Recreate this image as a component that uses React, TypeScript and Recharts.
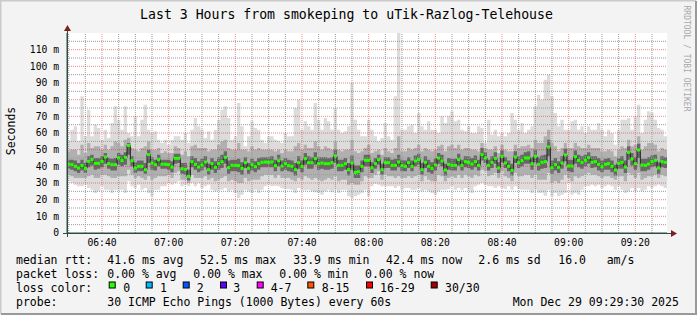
import React from 'react';
import { ComposedChart, Area, Line, Scatter, XAxis, YAxis, ReferenceLine, CartesianGrid } from 'recharts';

// one value per minute, 06:29:30 .. 09:29:30, in ms
const MEDIAN = [
  41.2, 41, 40, 39, 40.5, 38.8, 43, 44, 41.8, 41.8, 43, 45.6, 41.6, 41, 41, 45, 43.5, 45.4, 52.5, 43.4, 39, 40, 40, 38, 47, 42, 41, 44, 41.3, 41.2,
  41, 39.6, 44.8, 44.8, 38.6, 38.2, 33.9, 42.8, 41.2, 39.6, 40.8, 42.6, 38, 41.6, 39.4, 41.6, 42.8, 45.4, 39.2, 40.6, 40.6, 40.4, 38.8, 42.2, 38.8, 41, 39.8, 41.6, 42.4, 42.6,
  42.4, 42.6, 40.4, 43.4, 40.2, 41.6, 40.4, 40, 38, 42.2, 40, 44.6, 42.2, 42.2, 44.6, 41.6, 42, 41.6, 41.6, 42.2, 46.2, 40.6, 40.6, 41.6, 38, 42, 36.4, 36.8, 40, 43.6,
  43.6, 39.2, 41.6, 44, 38, 42.2, 42.2, 40.6, 40.6, 42.6, 40.4, 40, 42.2, 40, 43.2, 44, 38, 42.4, 40, 38.8, 40.8, 45, 43.2, 37.8, 41.2, 40.6, 40.6, 44, 40.6, 42.8,
  42.4, 41.4, 42.8, 40.6, 47, 45, 40.6, 42.4, 44.8, 39, 46, 42, 40, 37.6, 45.6, 42.2, 43.4, 45, 45, 41.6, 46, 41.2, 42.4, 42.8, 51.6, 39.2, 41, 39.4, 42, 46.8,
  40.2, 40.2, 45.8, 43.6, 42.4, 43.6, 45.2, 42.4, 42.8, 41.2, 39.8, 41.2, 41.6, 40, 37.8, 41.8, 42.4, 39.6, 48.4, 44.4, 41.6, 49.8, 40.8, 40.6, 41.4, 42.8, 43.6, 39, 42.8, 42.4,
];

const PING_MAX = [
  55, 62, 64, 55, 82, 58, 74, 58, 65, 63, 56, 62, 57, 66, 76, 68, 62, 76, 60, 58, 70, 58, 68, 77, 62, 60, 61, 56, 54, 56,
  53, 56, 58, 58, 56, 60, 54, 62, 69, 64, 62, 57, 61, 56, 62, 68, 74, 76, 69, 56, 58, 78, 64, 52, 58, 67, 63, 62, 56, 54,
  58, 58, 56, 55, 54, 60, 58, 58, 75, 80, 62, 67, 64, 62, 78, 68, 62, 69, 67, 62, 75, 62, 60, 61, 64, 90, 68, 62, 58, 58,
  68, 62, 58, 55, 57, 66, 58, 56, 82, 120, 62, 62, 64, 65, 60, 72, 64, 62, 67, 62, 62, 60, 70, 66, 70, 73, 67, 68, 62, 61,
  64, 60, 60, 64, 63, 54, 68, 59, 62, 58, 60, 58, 60, 72, 68, 62, 66, 60, 62, 64, 76, 83, 80, 92, 95, 82, 72, 64, 68, 62,
  62, 67, 68, 62, 64, 60, 64, 62, 62, 66, 62, 58, 62, 60, 53, 62, 68, 68, 69, 62, 70, 77, 60, 68, 73, 72, 68, 63, 62, 58,
];

const PING_MIN = [
  31, 30, 29, 28, 28, 29, 27, 26, 24, 25, 28, 26, 26, 24, 26, 26, 26, 24, 31, 28, 27, 29, 26, 27, 24, 22, 26, 26, 28, 28,
  30, 29, 30, 31, 28, 29, 28, 30, 28, 30, 27, 28, 29, 26, 25, 26, 26, 27, 25, 26, 24, 21, 23, 26, 25, 24, 26, 24, 26, 28,
  29, 28, 28.4, 28, 27, 26.4, 26.4, 26, 24, 27, 26, 25.6, 26, 25, 24.4, 24, 23, 25, 26, 24.4, 26, 24, 26, 26, 22, 21, 22, 23, 24, 26,
  22, 28, 29.6, 29, 28, 28, 28, 28, 27, 28, 26, 27, 27, 26, 26, 27, 25, 26, 25, 24, 23, 25, 26, 26, 26.4, 28, 26, 27, 26, 27,
  26, 24, 28, 29, 30, 29, 28, 28, 27, 28, 27, 26.4, 28, 26, 28, 26.4, 26, 26, 26, 24, 26, 24, 24, 22.4, 26, 22, 24, 22, 23, 24,
  30, 23, 24, 23, 26, 28, 28, 29, 28, 29, 27, 28, 29, 28, 26, 28, 26, 24, 25, 27, 25, 27, 25, 26, 28, 27, 28, 29, 28, 27,
];

const PING_P85 = [
  49, 50, 50, 47, 53, 48, 54, 51, 52, 52, 50, 53, 50, 52, 55, 54, 52, 56, 57, 51, 50, 49, 51, 52, 55, 50, 50, 51, 48, 49,
  48, 48, 52, 51, 47, 49, 46, 52, 53, 51, 51, 51, 49, 50, 50, 53, 55, 56, 51, 50, 50, 54, 50, 50, 49, 52, 50, 51, 50, 50,
  50, 50, 49, 50, 48, 50, 49, 49, 52, 54, 50, 53, 51, 51, 55, 52, 50, 52, 51, 50, 55, 50, 49, 50, 50, 56, 49, 48, 49, 51,
  53, 48, 49, 50, 47, 51, 49, 48, 51, 58, 49, 49, 51, 50, 51, 53, 49, 51, 50, 49, 50, 52, 53, 49, 52, 53, 51, 53, 50, 51,
  51, 50, 50, 49, 54, 51, 50, 50, 52, 48, 53, 50, 49, 49, 53, 51, 52, 52, 53, 51, 56, 54, 54, 58, 62, 54, 52, 49, 51, 54,
  51, 51, 54, 52, 51, 51, 53, 51, 51, 51, 49, 49, 50, 49, 46, 50, 52, 51, 56, 52, 53, 58, 50, 52, 54, 54, 53, 49, 51, 50,
];

const PING_P15 = [
  35, 34, 33, 33, 33, 33, 34, 35, 33, 33, 35, 35, 34, 33, 33, 34, 34, 34, 38, 35, 33, 34, 33, 32, 34, 32, 33, 34, 34, 34,
  35, 33, 36, 37, 32, 32, 30, 35, 33, 33, 33, 34, 32, 33, 31, 32, 33, 34, 31, 32, 31, 30, 30, 33, 31, 32, 32, 32, 34, 35,
  35, 35, 33, 35, 33, 33, 33, 32, 31, 33, 32, 34, 33, 32, 33, 32, 31, 32, 33, 32, 34, 31, 32, 32, 29, 30, 29, 29, 31, 34,
  33, 33, 35, 37, 32, 35, 34, 34, 33, 34, 33, 33, 34, 33, 34, 35, 31, 34, 32, 31, 31, 35, 34, 31, 33, 34, 33, 35, 33, 35,
  34, 33, 35, 34, 38, 37, 34, 35, 36, 33, 37, 34, 33, 31, 36, 34, 34, 35, 35, 33, 35, 32, 32, 32, 36, 30, 31, 30, 32, 35,
  33, 31, 34, 33, 34, 35, 36, 35, 35, 34, 33, 34, 34, 33, 32, 34, 34, 31, 36, 35, 33, 36, 32, 33, 34, 34, 35, 33, 35, 34,
];

const PING_P65 = [
  44, 44, 43.5, 42, 44, 42, 46, 47, 45, 45, 46, 48, 45, 44.5, 45, 48, 47, 48.5, 54, 46, 42.5, 43.5, 43.5, 42, 50, 45.5, 44, 47, 44, 44,
  44, 43, 47.5, 47.5, 42, 42, 38, 46, 45, 43, 44.5, 46, 41.5, 45, 43, 45.5, 47, 49, 43.5, 44, 44, 44.5, 42.5, 45.5, 42, 44.5, 43, 45, 45.5, 45.5,
  45.5, 46, 44, 47, 43.5, 45, 44, 43.5, 42, 46, 43.5, 48, 46, 45.5, 48.5, 45.5, 45.5, 45.5, 45, 45.5, 50, 44, 44, 45, 42, 46.5, 40.5, 40.5, 43.5, 47,
  47, 42.5, 45, 47, 41.5, 45.5, 45.5, 44, 44.5, 47, 44, 43.5, 45.5, 43.5, 46.5, 47.5, 42, 46, 44, 42.5, 44.5, 48, 47, 41.5, 45, 44.5, 44.5, 47.5, 44, 46,
  46, 45, 46.5, 44, 51, 48.5, 44, 46, 48.5, 42.5, 49.5, 45.5, 43.5, 41.5, 49, 46, 47, 48.5, 49, 45.5, 50, 45.5, 46.5, 47, 56, 43.5, 45, 43, 46, 50.5,
  44, 44, 49.5, 47, 46, 47, 48.5, 46, 46, 45, 43.5, 44.5, 45, 43.5, 41, 45, 46, 43.5, 52, 48, 45.5, 53.5, 44.5, 44.5, 45.5, 46.5, 47, 42.5, 46, 45.5,
];

const PING_P35 = [
  38.5, 38, 37, 36, 37.5, 36, 39.5, 40.5, 38, 38.5, 39.5, 41.5, 38.5, 37.5, 37.5, 41, 40, 41, 47, 40, 36, 37, 37, 35.5, 42, 38, 37.5, 40, 38.5, 38.5,
  38, 36.5, 41.5, 42, 35.5, 35, 31.5, 39.5, 38, 36.5, 37.5, 39.5, 35, 38, 36, 38, 39, 41.5, 35.5, 37, 37, 36.5, 35, 39, 35.5, 37.5, 36.5, 38, 39.5, 39.5,
  39.5, 39.5, 37, 40, 37, 38, 37, 36.5, 34.5, 38.5, 36.5, 41, 38.5, 38.5, 41, 38, 38.5, 38, 38, 38.5, 42, 37, 37, 38, 34.5, 38, 33, 33, 36.5, 40,
  40, 36, 38.5, 41, 35, 39, 39, 37.5, 37.5, 39.5, 37, 37, 39, 37, 40, 41, 35, 39, 36.5, 35.5, 37.5, 41.5, 40, 34.5, 38, 37.5, 37.5, 40.5, 37.5, 39.5,
  39, 38, 39.5, 37.5, 43.5, 42, 37.5, 39, 41.5, 36, 42.5, 39, 37, 34.5, 42, 39, 40, 41.5, 41.5, 38, 42.5, 37.5, 38.5, 39, 46, 35.5, 37.5, 36, 38.5, 43,
  37, 36.5, 41.5, 39.5, 38.5, 40, 41.5, 39, 39.5, 37.5, 36.5, 38, 38, 36.5, 34.5, 38.5, 38.5, 36, 44, 40.5, 38, 45, 37, 37, 38, 39.5, 40, 35.5, 39.5, 39,
];

// minutes after 06:29:30
const TIME_TICKS = [10.5, 30.5, 50.5, 70.5, 90.5, 110.5, 130.5, 150.5, 170.5];
const TIME_LABELS = ['06:40', '07:00', '07:20', '07:40', '08:00', '08:20', '08:40', '09:00', '09:20'];
const RTT_TICKS = [0, 10, 20, 30, 40, 50, 60, 70, 80, 90, 100, 110];
const RTT_LABELS = ['0', '10 m', '20 m', '30 m', '40 m', '50 m', '60 m', '70 m', '80 m', '90 m', '100 m', '110 m'];

const MINOR_X = Array.from({ length: 36 }, (_, k) => 0.5 + 5 * k).filter((v) => !TIME_TICKS.includes(v));
const MINOR_Y = Array.from({ length: 12 }, (_, k) => 5 + 10 * k);

const LOSS_LABELS = ['0', '1', '2', '3', '4-7', '8-15', '16-29', '30/30'];
const LOSS_COLORS = ['#26ff00', '#00b8ff', '#0059ff', '#5e00ff', '#ff00ff', '#ff5500', '#ff0000', '#a10000'];

const STAT_ROWS = [
  ['median rtt:', '41.6 ms avg', '52.5 ms max', '33.9 ms min', '42.4 ms now', '2.6 ms sd', '16.0', 'am/s'],
  ['packet loss:', '0.00 % avg', '0.00 % max', '0.00 % min', '0.00 % now'],
  ['probe:', '30 ICMP Echo Pings (1000 Bytes) every 60s', 'Mon Dec 29 09:29:30 2025'],
];
const STAT_X = [
  [16, 107.3, 200, 293.3, 386, 478.3, 558.3, 606.7],
  [16, 107.3, 193.3, 279.3, 365],
  [16, 107.3, 512.7],
];
const STAT_Y = [264, 278, 305.5];
const LOSS_SQ_X = [108.7, 145.7, 182.7, 220, 256.7, 307.3, 366, 430.7];
const LOSS_TXT_X = [123.3, 160, 196.7, 233.3, 270.7, 321.7, 380, 445];

const MONO = '"DejaVu Sans Mono", monospace';

const rows = MEDIAN.map((m, i) => ({
  t: i,
  med: m,
  outer: [PING_MIN[i], PING_MAX[i]],
  mid: [PING_P15[i], PING_P85[i]],
  core: [PING_P35[i], PING_P65[i]],
}));
rows.push({ ...rows[rows.length - 1], t: MEDIAN.length });
const marks = MEDIAN.map((m, i) => ({ t: i + 0.5, med: m }));

const GreenMark = (props: any) => {
  const { cx, cy } = props;
  if (cx == null || cy == null) return null;
  return <rect x={cx - 1.67} y={cy - 1.5} width={3.34} height={3} fill="#26ff00" />;
};

export default function App() {
  return (
    <div style={{ position: 'fixed', left: 0, top: 0, width: 697, height: 315, background: '#f3f3f3', fontFamily: MONO }}>
      <ComposedChart
        width={697}
        height={315}
        data={rows}
        margin={{ top: 33, right: 30, bottom: 52, left: 10 }}
        style={{ position: 'absolute', left: 0, top: 0 }}
      >
        <CartesianGrid fill="#ffffff" horizontal={false} vertical={false} stroke="none" />
        <XAxis
          dataKey="t"
          type="number"
          domain={[0, 180]}
          ticks={TIME_TICKS}
          tickFormatter={(v) => TIME_LABELS[TIME_TICKS.indexOf(v)] ?? ''}
          height={30}
          tickSize={0}
          tickMargin={6}
          axisLine={{ stroke: '#2c4d43' }}
          tickLine={false}
          tick={{ fontSize: 9.7, fill: '#000', fontFamily: MONO }}
          allowDataOverflow
        />
        <YAxis
          type="number"
          domain={[0, 120]}
          ticks={RTT_TICKS}
          tickFormatter={(v) => RTT_LABELS[RTT_TICKS.indexOf(v)] ?? ''}
          width={57}
          tickSize={0}
          tickMargin={8}
          axisLine={{ stroke: '#2c4d43' }}
          tickLine={false}
          tick={{ fontSize: 9.7, fill: '#000', fontFamily: MONO }}
          allowDataOverflow
        />
        <Area dataKey="outer" type="stepAfter" fill="#dcdcdc" fillOpacity={1} stroke="none" isAnimationActive={false} />
        <Area dataKey="mid" type="stepAfter" fill="#b0b0b0" fillOpacity={1} stroke="none" isAnimationActive={false} />
        <Area dataKey="core" type="stepAfter" fill="#686868" fillOpacity={1} stroke="none" isAnimationActive={false} />
        {MINOR_X.map((v) => (
          <ReferenceLine key={'mx' + v} x={v} stroke="#9a9a9a" strokeDasharray="1 1" />
        ))}
        {MINOR_Y.map((v) => (
          <ReferenceLine key={'my' + v} y={v} stroke="#9a9a9a" strokeDasharray="1 1" />
        ))}
        {TIME_TICKS.map((v) => (
          <ReferenceLine key={'Mx' + v} x={v} stroke="#de3030" strokeOpacity={0.55} strokeDasharray="1 1" />
        ))}
        {RTT_TICKS.filter((v) => v > 0).map((v) => (
          <ReferenceLine key={'My' + v} y={v} stroke="#de3030" strokeOpacity={0.55} strokeDasharray="1 1" />
        ))}
        <Line dataKey="med" type="stepAfter" stroke="#202020" strokeWidth={1} dot={false} isAnimationActive={false} />
        <Scatter data={marks} dataKey="med" shape={GreenMark} isAnimationActive={false} />
      </ComposedChart>

      <svg width={697} height={315} style={{ position: 'absolute', left: 0, top: 0, pointerEvents: 'none' }}>
        {/* frame */}
        <path d="M0.5 314 V0.5 H696" stroke="#cbcbcb" strokeWidth={2} fill="none" />
        <path d="M1 314 H696 V1" stroke="#999999" strokeWidth={2} fill="none" />
        {/* axis extensions + arrows */}
        <line x1={63} y1={233.5} x2={672} y2={233.5} stroke="#2c4d43" />
        <line x1={67.5} y1={237} x2={67.5} y2={30} stroke="#2c4d43" />
        <path d="M671 230 L677 233.5 L671 237 Z" fill="#7f1f1f" />
        <path d="M64 31 L67.5 25 L71 31 Z" fill="#7f1f1f" />

        <text x={346.5} y={18.5} textAnchor="middle" fontSize={13.2} fontFamily={MONO} fill="#000">
          Last 3 Hours from smokeping to uTik-Razlog-Telehouse
        </text>
        <text
          x={11}
          y={131}
          transform="rotate(-90 11 131)"
          textAnchor="middle"
          dominantBaseline="central"
          fontSize={11.5}
          fontFamily={MONO}
          fill="#000"
        >
          Seconds
        </text>
        <text
          x={686}
          y={58.5}
          transform="rotate(90 686 58.5)"
          textAnchor="middle"
          dominantBaseline="central"
          fontSize={8}
          fontFamily={MONO}
          fill="#a8a8a8"
        >
          RRDTOOL / TOBI OETIKER
        </text>

        {STAT_ROWS.map((row, r) =>
          row.map((s, c) => (
            <text key={r + '-' + c} x={STAT_X[r][c]} y={STAT_Y[r]} fontSize={11.5} fontFamily={MONO} fill="#000" style={{ whiteSpace: 'pre' }}>
              {s}
            </text>
          ))
        )}
        <text x={16} y={291.5} fontSize={11.5} fontFamily={MONO} fill="#000">
          loss color:
        </text>
        {LOSS_LABELS.map((l, i) => (
          <g key={l}>
            <rect x={LOSS_SQ_X[i] + 0.5} y={282} width={6} height={6} fill={LOSS_COLORS[i]} stroke="#000" />
            <text x={LOSS_TXT_X[i]} y={291.5} fontSize={11.5} fontFamily={MONO} fill="#000">
              {l}
            </text>
          </g>
        ))}
      </svg>
    </div>
  );
}
